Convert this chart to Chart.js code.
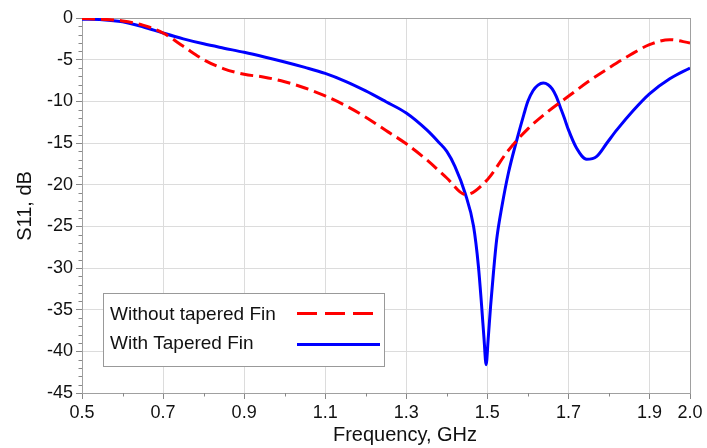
<!DOCTYPE html>
<html>
<head>
<meta charset="utf-8">
<script src="https://cdn.jsdelivr.net/npm/chart.js@4.4.1/dist/chart.umd.min.js"></script>
<style>
  html, body { margin: 0; padding: 0; background: #fff; }
  #wrap { width: 707px; height: 448px; }
</style>
</head>
<body>
<div id="wrap"><canvas id="c" width="707" height="448"></canvas></div>
<script>
// ---- data ----
const seriesNames = ["Without tapered Fin", "With Tapered Fin"];
const xTickValues = [0.5, 0.7, 0.9, 1.1, 1.3, 1.5, 1.7, 1.9, 2.0];
const xMinorTicks = [0.6, 0.8, 1.0, 1.2, 1.4, 1.6, 1.8];

const freqRed = [0.50, 0.55, 0.60, 0.65, 0.70, 0.75, 0.80, 0.85, 0.90, 0.95, 1.00, 1.05, 1.10, 1.15, 1.20, 1.25, 1.30, 1.35, 1.40, 1.447, 1.50, 1.55, 1.60, 1.65, 1.70, 1.75, 1.80, 1.85, 1.90, 1.95, 2.00];
const s11Red  = [-0.05, -0.15, -0.35, -0.85, -1.8, -3.4, -5.0, -6.1, -6.75, -7.1, -7.65, -8.4, -9.35, -10.5, -11.9, -13.5, -15.1, -17.0, -19.2, -21.2, -19.4, -16.0, -13.3, -11.2, -9.4, -7.6, -6.0, -4.5, -3.2, -2.6, -3.0];

const freqBlue = [0.50, 0.55, 0.60, 0.65, 0.70, 0.75, 0.80, 0.85, 0.90, 0.95, 1.00, 1.05, 1.10, 1.15, 1.20, 1.25, 1.30, 1.35, 1.38, 1.40, 1.42, 1.445, 1.466, 1.478, 1.486, 1.492, 1.497, 1.502, 1.508, 1.515, 1.523, 1.536, 1.552, 1.574, 1.59, 1.60, 1.613, 1.625, 1.638, 1.65, 1.66, 1.67, 1.68, 1.69, 1.70, 1.72, 1.745, 1.77, 1.795, 1.82, 1.86, 1.90, 1.95, 2.00];
const s11Blue  = [-0.15, -0.2, -0.45, -1.05, -1.8, -2.5, -3.1, -3.62, -4.12, -4.68, -5.28, -5.93, -6.65, -7.6, -8.75, -10.05, -11.4, -13.4, -14.9, -16.0, -17.8, -21.0, -25.0, -29.8, -34.6, -38.6, -41.6, -38.6, -34.6, -30.6, -26.6, -22.6, -18.6, -14.4, -11.6, -10.0, -8.7, -8.05, -7.8, -8.0, -8.5, -9.4, -10.7, -12.0, -13.4, -15.6, -16.95, -16.6, -15.0, -13.4, -11.1, -9.1, -7.3, -6.0];

const xTitle = "Frequency, GHz";
const yTitle = "S11, dB";

// ---- chart ----
const FONT = "'Liberation Sans', Arial, sans-serif";
const toXY = (xs, ys) => xs.map((x, i) => ({ x: x, y: ys[i] }));

const decorPlugin = {
  id: 'decor',
  beforeDatasetsDraw(chart) {
    const { ctx, chartArea: a } = chart;
    const xs = chart.scales.x, ys = chart.scales.y;
    ctx.save();
    // frame
    ctx.strokeStyle = '#a0a0a0';
    ctx.lineWidth = 1;
    ctx.strokeRect(Math.round(a.left) + 0.5, Math.round(a.top) + 0.5, Math.round(a.right - a.left), Math.round(a.bottom - a.top));
    // minor ticks
    ctx.strokeStyle = '#888';
    ctx.beginPath();
    for (let v = -44; v < 0; v++) {
      if (v % 5 === 0) continue;
      const y = Math.round(ys.getPixelForValue(v)) + 0.5;
      ctx.moveTo(a.left - 3.5, y); ctx.lineTo(a.left, y);
    }
    xMinorTicks.forEach(v => {
      const x = Math.round(xs.getPixelForValue(v)) + 0.5;
      ctx.moveTo(x, a.bottom); ctx.lineTo(x, a.bottom + 3.5);
    });
    ctx.stroke();
    ctx.restore();
  },
  afterDatasetsDraw(chart) {
    const { ctx } = chart;
    ctx.save();
    // legend box
    const bx = 103.5, by = 293.5, bw = 281, bh = 73;
    ctx.fillStyle = '#fff';
    ctx.fillRect(bx, by, bw, bh);
    ctx.strokeStyle = '#999';
    ctx.lineWidth = 1;
    ctx.strokeRect(bx, by, bw, bh);
    ctx.fillStyle = '#111';
    ctx.font = '19px ' + FONT;
    ctx.textBaseline = 'alphabetic';
    ctx.textAlign = 'left';
    ctx.fillText(seriesNames[0], 110, 319.5);
    ctx.fillText(seriesNames[1], 110, 348.5);
    ctx.lineWidth = 3;
    ctx.strokeStyle = '#ff0000';
    ctx.setLineDash([20, 8]);
    ctx.beginPath(); ctx.moveTo(297, 313.5); ctx.lineTo(380, 313.5); ctx.stroke();
    ctx.setLineDash([]);
    ctx.strokeStyle = '#0000ff';
    ctx.beginPath(); ctx.moveTo(297, 344.5); ctx.lineTo(380, 344.5); ctx.stroke();
    // axis titles
    ctx.fillStyle = '#111';
    ctx.font = '20px ' + FONT;
    ctx.textAlign = 'center';
    ctx.fillText(xTitle, 405, 441);
    ctx.translate(31, 206);
    ctx.rotate(-Math.PI / 2);
    ctx.fillText(yTitle, 0, 0);
    ctx.restore();
  }
};

new Chart(document.getElementById('c'), {
  type: 'line',
  data: {
    datasets: [
      {
        label: seriesNames[0],
        data: toXY(freqRed, s11Red),
        borderColor: '#ff0000',
        borderWidth: 3,
        borderDash: [13, 6],
        pointRadius: 0,
        cubicInterpolationMode: 'monotone',
        fill: false
      },
      {
        label: seriesNames[1],
        data: toXY(freqBlue, s11Blue),
        borderColor: '#0000ff',
        borderWidth: 3,
        pointRadius: 0,
        cubicInterpolationMode: 'monotone',
        fill: false
      }
    ]
  },
  options: {
    responsive: false,
    animation: false,
    devicePixelRatio: 1,
    layout: { padding: { top: 18, right: 17, left: 0, bottom: 0 } },
    plugins: { legend: { display: false }, tooltip: { enabled: false } },
    scales: {
      x: {
        type: 'linear',
        min: 0.5, max: 2.0,
        afterBuildTicks: (s) => { s.ticks = xTickValues.map(v => ({ value: v })); },
        afterFit: (s) => { s.height = 55; },
        grid: { color: '#dcdcdc', tickColor: '#888', tickLength: 6, drawTicks: true },
        border: { display: false },
        ticks: {
          autoSkip: false, maxRotation: 0, padding: 3, color: '#111',
          font: { family: FONT, size: 18 },
          callback: (v) => Number(v).toFixed(1)
        }
      },
      y: {
        min: -45, max: 0,
        ticks: {
          stepSize: 5, padding: 3, color: '#111',
          font: { family: FONT, size: 18 },
          callback: (v) => String(v)
        },
        afterFit: (s) => { s.width = 82; },
        grid: { color: '#dcdcdc', tickColor: '#888', tickLength: 6, drawTicks: true },
        border: { display: false }
      }
    }
  },
  plugins: [decorPlugin]
});
</script>
</body>
</html>
